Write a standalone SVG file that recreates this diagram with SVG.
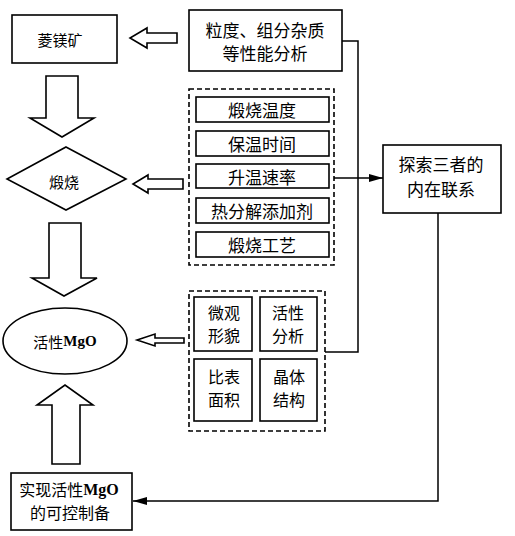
<svg xmlns="http://www.w3.org/2000/svg" width="515" height="536" viewBox="0 0 515 536">
<style>
.box{fill:#fff;stroke:#000;stroke-width:1.6}
.dash{fill:none;stroke:#000;stroke-width:1.6;stroke-dasharray:5 3}
.hollow{fill:#fff;stroke:#000;stroke-width:1.6;stroke-linejoin:miter}
.ln{fill:none;stroke:#000;stroke-width:1.5}
text{font-family:"Noto Sans CJK SC","Liberation Sans",sans-serif;font-size:17px;fill:#000;text-anchor:middle;dominant-baseline:central}
.sm{font-size:15px}
.md{font-size:16px}
.mgo{font-family:"Liberation Serif","Noto Sans CJK SC",serif;font-weight:bold}
</style>
<defs>
<marker id="ah" viewBox="0 0 14 8" refX="14" refY="4" markerWidth="14" markerHeight="8" markerUnits="userSpaceOnUse" orient="auto">
<path d="M0,0 L14,4 L0,8 Z" fill="#000"/>
</marker>
</defs>
<rect width="515" height="536" fill="#fff"/>

<g id="connectors">
<polyline class="ln" points="342,41 358,41 358,352 325,352"/>
<line class="ln" x1="334" y1="178" x2="383" y2="178" marker-end="url(#ah)"/>
<polyline class="ln" points="438,213 438,501 133,501" marker-end="url(#ah)"/>
<polygon class="hollow" points="177,33 147,33 147,28 130,38 147,48 147,43 177,43"/>
<polygon class="hollow" points="183,179 148,179 148,175 133,184 148,193 148,189 183,189"/>
<polygon class="hollow" points="184,338 155,338 155,334 137,340 155,346 155,343 184,343"/>
<polygon class="hollow" points="46,76 78,76 78,118 94,118 62,137 30,118 46,118"/>
<polygon class="hollow" points="49,223 81,223 81,278 97,278 64,296 32,278 49,278"/>
<polygon class="hollow" points="52,464 80,464 80,405 93,405 65,385 37,405 52,405"/>
</g>

<g id="node-lingmeikuang">
<rect class="box" x="12" y="15" width="105" height="48"/>
<text class="sm" x="60" y="39">菱镁矿</text>
</g>

<g id="node-analysis">
<rect class="box" x="189" y="10" width="153" height="61"/>
<text x="265" y="29">粒度、组分杂质</text>
<text x="265" y="52">等性能分析</text>
</g>

<g id="node-calcine">
<polygon class="box" points="66,147 126,179 66,210 7,179"/>
<text class="sm" x="64" y="181">煅烧</text>
</g>

<g id="node-params">
<rect class="dash" x="189" y="89" width="145" height="176"/>
<rect class="box" x="196" y="97" width="133" height="25"/>
<text x="262" y="109">煅烧温度</text>
<rect class="box" x="196" y="131" width="133" height="25"/>
<text x="262" y="143">保温时间</text>
<rect class="box" x="196" y="164" width="133" height="24"/>
<text x="262" y="176">升温速率</text>
<rect class="box" x="196" y="198" width="133" height="25"/>
<text x="262" y="210">热分解添加剂</text>
<rect class="box" x="196" y="232" width="133" height="25"/>
<text x="262" y="244">煅烧工艺</text>
</g>

<g id="node-explore">
<rect class="box" x="383" y="145" width="118" height="68"/>
<text x="441" y="163">探索三者的</text>
<text x="441" y="188">内在联系</text>
</g>

<g id="node-mgo">
<ellipse class="box" cx="65" cy="341" rx="62" ry="33"/>
<text class="sm" x="65" y="341">活性<tspan class="mgo">MgO</tspan></text>
</g>

<g id="node-props">
<rect class="dash" x="189" y="291" width="136" height="140"/>
<rect class="box" x="194" y="297" width="58" height="54"/>
<text class="md" x="224" y="312">微观</text>
<text class="md" x="224" y="335">形貌</text>
<rect class="box" x="260" y="297" width="57" height="54"/>
<text class="md" x="288" y="312">活性</text>
<text class="md" x="288" y="335">分析</text>
<rect class="box" x="194" y="359" width="58" height="62"/>
<text class="md" x="224" y="376">比表</text>
<text class="md" x="224" y="399">面积</text>
<rect class="box" x="260" y="359" width="57" height="62"/>
<text class="md" x="289" y="376">晶体</text>
<text class="md" x="289" y="399">结构</text>
</g>

<g id="node-control">
<rect class="box" x="11" y="473" width="121" height="57"/>
<text class="md" x="69" y="489">实现活性<tspan class="mgo">MgO</tspan></text>
<text class="md" x="70" y="512">的可控制备</text>
</g>
</svg>
